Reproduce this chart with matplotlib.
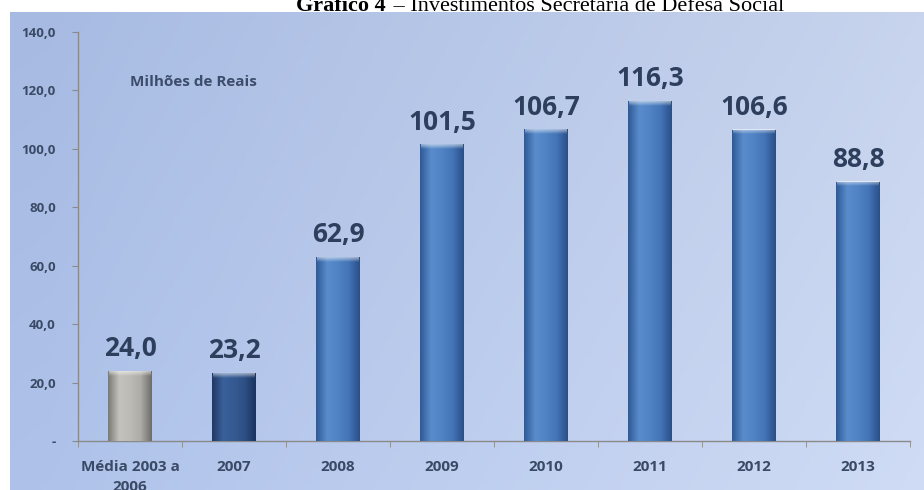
import numpy as np
import matplotlib.pyplot as plt
from matplotlib.colors import LinearSegmentedColormap

categorias = ['Média 2003 a\n2006', '2007', '2008', '2009', '2010', '2011', '2012', '2013']
valores = [24.0, 23.2, 62.9, 101.5, 106.7, 116.3, 106.6, 88.8]
rotulos = ['24,0', '23,2', '62,9', '101,5', '106,7', '116,3', '106,6', '88,8']
yticks = [0, 20, 40, 60, 80, 100, 120, 140]
ytick_labels = ['-', '20,0', '40,0', '60,0', '80,0', '100,0', '120,0', '140,0']

W, H = 924, 490
fig = plt.figure(figsize=(W / 100, H / 100), dpi=100, facecolor='white')

# fundo em degradê (estilo Excel)
bg = fig.add_axes([10 / W, 0, 1 - 10 / W, 1 - 12 / H])
gx = np.linspace(0, 1, 256)
gy = np.linspace(0, 1, 128)[:, None]
c_left = np.array([166, 186, 226]) / 255
c_right = np.array([200, 212, 237]) / 255
grad = c_left + (c_right - c_left) * gx[None, :, None]
grad = grad + 0.03 * gy[..., None]
grad = np.clip(grad, 0, 1)
bg.imshow(grad, aspect='auto', extent=[0, 1, 0, 1], origin='upper')
bg.axis('off')

ax = fig.add_axes([78 / W, 1 - 441 / H, 832 / W, (441 - 32) / H])
ax.patch.set_alpha(0)

cmaps = {
    'cinza': LinearSegmentedColormap.from_list('c', ['#7a7a76', '#c4c2bc', '#bdbbb5', '#aeaca6', '#6e6d6a']),
    'escuro': LinearSegmentedColormap.from_list('e', ['#1f3a66', '#3a609a', '#355a92', '#2d4f84', '#1b3460']),
    'azul': LinearSegmentedColormap.from_list('a', ['#2f5a96', '#5a8ccc', '#5083c4', '#4474b6', '#2a5088']),
}
estilos = ['cinza', 'escuro'] + ['azul'] * 6
largura = 0.42
x = np.arange(len(categorias))

bars = ax.bar(x, valores, width=largura, color='none', edgecolor='none', zorder=3)
faixa = np.linspace(0, 1, 64)[None, :]
topo = np.linspace(0, 1, 32)[:, None]
for b, est, v in zip(bars, estilos, valores):
    x0 = b.get_x()
    im = ax.imshow(faixa, cmap=cmaps[est], aspect='auto', zorder=3,
                   extent=[x0, x0 + largura, 0, v])
    im.set_clip_path(b)
    # borda superior chanfrada, clareando para cima
    cap = ax.imshow(np.dstack([np.ones_like(topo)] * 3 + [0.55 * topo]), aspect='auto', zorder=4,
                    extent=[x0 + 0.01, x0 + largura - 0.01, v - 1.6, v], origin='lower')

for xi, v, r in zip(x, valores, rotulos):
    ax.text(xi, v + 3, r, ha='center', va='bottom', fontsize=19,
            fontweight='bold', color='#2e3f5e', family='Open Sans')

ax.set_xlim(-0.5, len(categorias) - 0.5)
ax.set_ylim(0, 140)
ax.set_yticks(yticks)
ax.set_yticklabels(ytick_labels)
ax.set_xticks(x)
ax.set_xticklabels(categorias)
ax.set_xticks(np.arange(-0.5, len(categorias)), minor=True)
ax.tick_params(axis='x', which='major', length=0, pad=14)
ax.tick_params(axis='x', which='minor', length=4, color='#8a8a8a')
ax.tick_params(axis='y', length=4, color='#8a8a8a', pad=12)
for lab in ax.get_xticklabels() + ax.get_yticklabels():
    lab.set_family('Open Sans')
    lab.set_fontweight('bold')
    lab.set_color('#3a4a66')
for lab in ax.get_xticklabels():
    lab.set_fontsize(11)
    lab.set_linespacing(1.5)
    lab.set_va('top')
for lab in ax.get_yticklabels():
    lab.set_fontsize(9.5)
for s in ['top', 'right']:
    ax.spines[s].set_visible(False)
for s in ['left', 'bottom']:
    ax.spines[s].set_color('#8a8a8a')
    ax.spines[s].set_linewidth(1)

fig.text(130 / W, 1 - 82 / H, 'Milhões de Reais', fontsize=11, fontweight='bold',
         color='#3c4c6c', family='Open Sans', va='center')

# título (cortado no topo, como no original)
fig.text(386 / W, 1 - 11 / H, 'Gráfico 4', ha='right', va='baseline', fontsize=16,
         fontweight='bold', family='Liberation Serif')
fig.text(388 / W, 1 - 11 / H, ' – Investimentos Secretaria de Defesa Social', ha='left',
         va='baseline', fontsize=16, family='Liberation Serif')

fig.savefig('out.png', dpi=100, facecolor='white')
